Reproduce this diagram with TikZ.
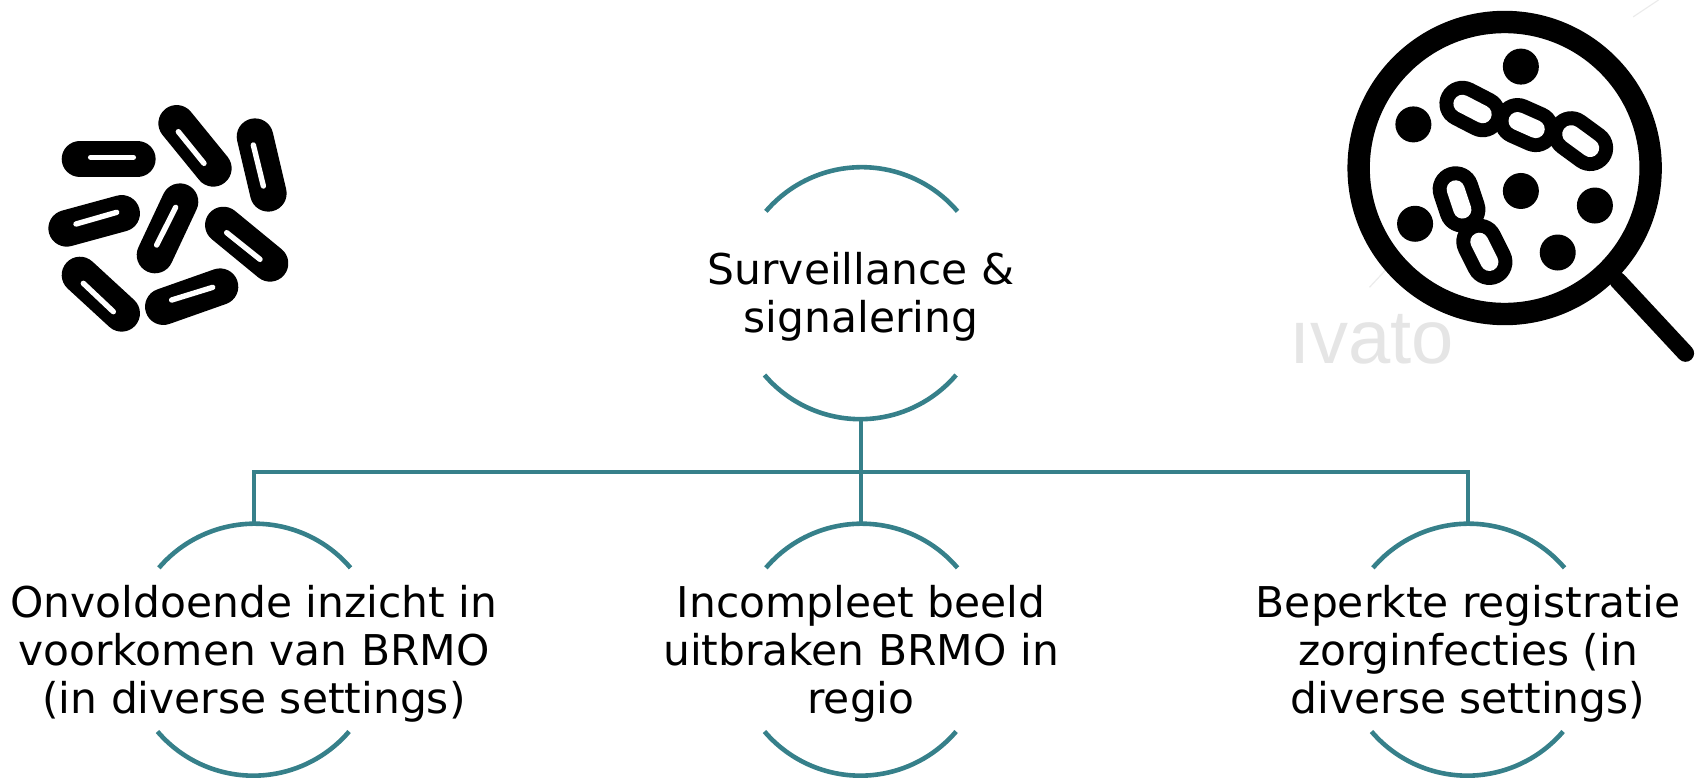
\documentclass[tikz,border=0pt]{standalone}
\usepackage{fontspec}
\setmainfont{DejaVu Sans}
\definecolor{teal1}{HTML}{36808A}
\newcommand{\bact}[4]{\draw[bactbody] (#1) -- (#2); \draw[bactslit] (#3) -- (#4);}
\tikzset{
  topic/.style={circle,minimum size=126pt,inner sep=0pt,outer sep=0pt,
    label={[topictext]center:{#1}}},
  topictext/.style={align=center,inner sep=0pt,yshift=-1.5pt,
    font=\fontsize{21.2}{24}\selectfont,text=black},
  link/.style={draw=teal1,line width=2.3pt},
  rim/.style={draw=teal1,line width=2.3pt},
  bactbody/.style={line width=18.3pt,line cap=round,black},
  bactslit/.style={line width=2.7pt,line cap=round,white},
  pillbody/.style={line width=23pt,line cap=round,black},
  pillhole/.style={line width=9pt,line cap=round,white},
  ghost/.style={line width=0.6pt,black!8},
}
\begin{document}
\begin{tikzpicture}[x=0.5pt,y=0.5pt]
\useasboundingbox (0,-778) rectangle (1700,0);
% icons
\begin{scope}[shift={(0,-80)},x=0.16667pt,y=-0.16667pt]
\bact{240,237}{412,237}{272,232}{400,232}
\bact{530,130}{640,265}{535,155}{612,250}
\bact{765,170}{805,340}{760,195}{790,318}
\bact{200,445}{365,400}{228,432}{350,397}
\bact{540,365}{465,525}{527,382}{470,495}
\bact{670,435}{810,550}{680,458}{780,538}
\bact{240,585}{365,700}{250,610}{340,695}
\bact{490,680}{660,620}{515,660}{638,622}
\end{scope}
\begin{scope}[shift={(1170,0)},x=0.169pt,y=-0.169pt]
\draw[ghost] (1370,50) -- (1445,0);
\draw[ghost] (1180,245) -- (1260,160);
\draw[ghost] (590,850) -- (665,770);
\draw[line width=8.6pt,line cap=round] (1325,830) -- (1525,1045);
\draw[line width=11.2pt,black,fill=white] (990,497) circle[radius=73pt];
\foreach \p in {{1038,197},{720,368},{1038,565},{1257,608},{725,662},{1147,747}}
  \fill[black] (\p) circle[radius=9pt];
\draw[pillbody] (865,307) -- (925,338);
\draw[pillbody] (1028,358) -- (1082,382);
\draw[pillbody] (1187,397) -- (1243,438);
\draw[pillbody] (845,560) -- (865,620);
\draw[pillbody] (915,715) -- (945,775);
\draw[pillhole] (865,307) -- (925,338);
\draw[pillhole] (1028,358) -- (1082,382);
\draw[pillhole] (1187,397) -- (1243,438);
\draw[pillhole] (845,560) -- (865,620);
\draw[pillhole] (915,715) -- (945,775);
\node[anchor=west,inner sep=0pt,text=black!10,font=\fontsize{38}{38}\fontspec{Liberation Sans}] (mark) at (352,1005) {ıvato};
\end{scope}
% topics
\node[topic={Surveillance \&\\signalering}] (top) at (861,-294) {};
\node[topic={Onvoldoende inzicht in\\voorkomen van BRMO\\(in diverse settings)}] (left) at (254,-650.5) {};
\node[topic={Incompleet beeld\\uitbraken BRMO in\\regio}] (mid) at (861,-650.5) {};
\node[topic={Beperkte registratie\\zorginfecties (in\\diverse settings)}] (right) at (1468,-650.5) {};
\coordinate (hub) at (861,-472);
% arcs
\foreach \n in {top,left,mid,right}{
  \draw[rim] (\n.139.5) arc[start angle=139.5,end angle=40.5,radius=63pt];
  \draw[rim] (\n.220.5) arc[start angle=220.5,end angle=319.5,radius=63pt];
}
% connectors
\draw[link] (top.south) -- (mid.north);
\draw[link] (left.north) |- (hub) -| (right.north);
\end{tikzpicture}
\end{document}
